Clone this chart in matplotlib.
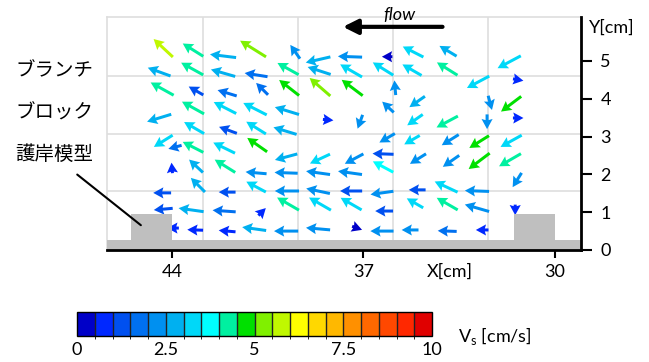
import numpy as np
import matplotlib
matplotlib.use('Agg')
import matplotlib.pyplot as plt
from matplotlib.colors import ListedColormap, BoundaryNorm
from matplotlib.patches import Rectangle
from matplotlib.cm import ScalarMappable

plt.rcParams['font.family'] = ['Lato', 'Noto Sans CJK JP', 'DejaVu Sans']

# measurement points [cm]
x_cm = [44.33, 44.48, 44.37, 44.48, 44.33, 44.01, 44.37, 44.33, 43.97, 43.90,
        43.24, 43.27, 43.13, 43.24, 43.20, 43.24, 43.13, 43.06, 43.31, 43.16,
        42.14, 42.14, 41.99, 42.07, 41.96, 42.10, 42.07, 41.99, 42.10, 41.99,
        41.04, 40.93, 40.71, 40.97, 40.93, 40.89, 40.93, 40.93, 40.71, 41.00,
        39.50, 39.76, 39.72, 39.80, 39.87, 39.83, 39.83, 39.80, 39.76, 39.83,
        38.66, 38.62, 38.59, 38.29, 38.59, 38.66, 38.66, 38.59, 38.66,
        37.49, 37.45, 37.41, 37.12, 37.34, 37.49, 37.45, 37.45, 37.23,
        36.13, 36.28, 35.84, 36.10, 36.13, 36.28, 36.28, 36.32, 36.24, 36.32,
        35.18, 35.22, 35.03, 35.11, 35.22, 35.00, 35.03, 35.11, 35.29,
        33.90, 33.93, 33.93, 33.82, 33.79, 33.97, 33.93, 33.93,
        32.80, 32.36, 32.47, 32.76, 32.76, 32.84, 32.84, 32.65,
        31.66, 31.33, 31.59, 31.33, 31.59, 31.63, 31.37, 31.44]
y_cm = [5.34, 4.71, 4.26, 3.49, 2.88, 2.17, 1.51, 1.08, 0.58, 2.72,
        5.29, 4.79, 4.21, 3.76, 3.23, 2.72, 2.22, 1.72, 1.06, 0.53,
        5.13, 4.68, 4.15, 3.76, 3.17, 2.70, 2.22, 1.53, 1.03, 0.50,
        5.32, 4.63, 4.26, 3.73, 3.23, 2.78, 2.04, 1.67, 1.01, 0.56,
        5.24, 4.79, 4.29, 3.68, 3.15, 2.46, 2.04, 1.56, 1.22, 0.50,
        5.03, 4.74, 4.31, 3.44, 2.41, 2.04, 1.56, 1.22, 0.56,
        5.11, 4.74, 4.29, 3.39, 2.41, 2.04, 1.56, 1.22, 0.58,
        5.11, 4.79, 4.29, 3.78, 2.96, 2.54, 2.20, 1.51, 1.03, 0.50,
        5.24, 4.76, 3.92, 3.44, 2.91, 2.41, 1.59, 1.24, 0.53,
        5.26, 4.79, 3.39, 2.91, 2.35, 1.67, 1.22, 0.50,
        4.44, 3.89, 3.39, 2.86, 2.35, 1.56, 1.11, 0.53,
        4.97, 4.50, 3.86, 3.49, 2.88, 2.38, 1.85, 1.06]
# arrow direction as seen in the figure [deg], in-plane magnitude, Vs [cm/s]
direction = [137, 160, 151, 197, 212, 95, 180, 185, 180, 195,
             148, 151, 150, 151, 150, 153, 137, 135, 172, 178,
             173, 164, 163, 153, 160, 154, 148, 180, 176, 175,
             148, 171, 135, 153, 148, 145, 175, 152, 45, 172,
             125, 151, 142, 163, 163, 195, 178, 180, 150, 180,
             193, 162, 139, -5, 205, 172, 168, 150, 175,
             178, 150, 143, 250, 208, 172, 180, 150, -20,
             180, 148, 95, 137, 210, 178, 152, 188, 180, 180,
             153, 150, 215, 215, 210, 212, 180, 150, 180,
             149, 148, 208, 212, 215, 155, 150, 178,
             208, 285, 270, 212, 217, 178, 164, 180,
             208, -10, 217, 0, 209, 210, 238, 270]
q_len = [2.5, 2.3, 2.5, 2.4, 2.1, 1.0, 1.7, 1.8, 1.1, 1.3,
         2.3, 2.4, 1.6, 2.4, 2.2, 2.2, 1.8, 1.9, 2.4, 1.5,
         2.5, 2.4, 1.9, 2.4, 1.8, 2.3, 2.3, 1.6, 2.2, 1.6,
         2.9, 2.2, 1.6, 2.5, 2.2, 2.3, 2.0, 2.1, 1.0, 2.3,
         1.6, 2.3, 2.4, 2.4, 2.3, 2.2, 2.2, 2.3, 2.4, 2.3,
         2.4, 2.3, 2.6, 1.0, 2.1, 2.3, 2.3, 2.4, 2.3,
         2.3, 2.4, 2.5, 1.4, 2.0, 2.3, 2.1, 2.3, 1.0,
         1.0, 2.3, 1.4, 1.5, 1.7, 2.0, 2.2, 2.2, 1.7, 2.2,
         2.2, 2.1, 1.8, 1.8, 1.7, 1.8, 1.6, 1.8, 1.6,
         1.9, 2.3, 2.3, 1.9, 1.9, 2.4, 2.3, 1.8,
         2.4, 1.4, 1.4, 2.2, 2.5, 2.3, 2.4, 1.2,
         2.5, 1.0, 2.4, 1.0, 2.3, 2.4, 1.6, 1.0]
vs = [5.75, 2.75, 4.25, 2.75, 3.25, 0.6, 1.25, 1.25, 0.8, 1.6,
      4.25, 4.25, 1.25, 4.3, 3.4, 4.2, 2.8, 2.7, 2.7, 0.8,
      2.6, 2.8, 1.5, 3.3, 1.3, 3.3, 4.2, 1.0, 1.7, 0.8,
      5.3, 1.8, 1.7, 3.4, 3.4, 4.8, 2.2, 3.3, 0.7, 2.6,
      2.3, 4.2, 4.9, 2.9, 2.8, 2.7, 2.3, 2.3, 4.2, 2.3,
      2.8, 2.8, 5.3, 0.7, 3.3, 2.3, 2.3, 3.3, 2.3,
      2.3, 3.3, 4.8, 2.2, 2.3, 2.3, 1.3, 3.3, 0.3,
      0.3, 3.3, 2.2, 2.2, 2.2, 1.3, 3.5, 2.2, 1.1, 2.3,
      3.1, 3.3, 2.8, 3.2, 3.3, 2.3, 1.3, 3.3, 2.3,
      2.8, 4.2, 4.2, 2.3, 2.3, 3.3, 4.2, 1.5,
      3.3, 2.2, 2.2, 4.8, 4.9, 2.3, 2.3, 0.8,
      3.3, 0.7, 4.8, 0.7, 3.2, 4.2, 2.3, 0.7]

bar_colors = ['#0000c8', '#0028ff', '#0050f0', '#0070f0', '#0090f0',
              '#00b0f0', '#00d8f8', '#00ffff', '#00f0a0', '#00e000',
              '#80f000', '#c0f800', '#ffff00', '#ffd800', '#ffb800',
              '#ff9000', '#ff6800', '#ff4800', '#ff2800', '#e00000']
levels = np.arange(0, 10.01, 0.5)
cbar_ticks = [0, 2.5, 5, 7.5, 10]
cbar_ticklabels = ['0', '2.5', '5', '7.5', '10']

cmap = ListedColormap(bar_colors)
norm = BoundaryNorm(levels, cmap.N)

W, H = 649, 362
fig = plt.figure(figsize=(W / 100, H / 100), dpi=100)
ax = fig.add_axes([107 / W, 1 - 250 / H, (581 - 107) / W, (250 - 17) / H])
ax.set_xlim(46.39, 29.03)
ax.set_ylim(0, 6.16)

# background grid
for gx in [42.87, 39.39, 35.91, 32.43]:
    ax.axvline(gx, color='#dedede', lw=1.2, zorder=0)
for gy in [4.60, 3.07, 1.56]:
    ax.axhline(gy, color='#dedede', lw=1.2, zorder=0)

rad = np.deg2rad(direction)
u = np.array(q_len) * np.cos(rad)
v = np.array(q_len) * np.sin(rad)
ax.quiver(x_cm, y_cm, u, v, vs, cmap=cmap, norm=norm, angles='uv',
          scale_units='dots', scale=0.095, units='dots', width=3.0,
          headwidth=3.7, headlength=3.4, headaxislength=3.0,
          pivot='middle', zorder=2)

# channel bed and revetment blocks
gray = '#bfbfbf'
ax.add_patch(Rectangle((29.0, 0), 17.4, 0.26, color=gray, zorder=3, lw=0))
ax.add_patch(Rectangle((44.0, 0), 1.5, 0.95, color=gray, zorder=3, lw=0))
ax.add_patch(Rectangle((30.0, 0), 1.48, 0.95, color=gray, zorder=3, lw=0))

for s in ['top', 'left']:
    ax.spines[s].set_color('#dedede')
    ax.spines[s].set_linewidth(1.2)
for s in ['bottom', 'right']:
    ax.spines[s].set_color('black')
    ax.spines[s].set_linewidth(2)
    ax.spines[s].set_zorder(4)

ax.set_xticks([44, 37, 30])
ax.set_xticklabels(['44', '37', '30'])
ax.tick_params(axis='x', length=6, width=1.5, labelsize=13, pad=4)
ax.yaxis.tick_right()
ax.set_yticks([0, 1, 2, 3, 4, 5])
ax.tick_params(axis='y', length=8, width=1.5, labelsize=13, pad=6)

fig.text(450 / W, 1 - 272 / H, 'X[cm]', ha='center', va='center', fontsize=13)
fig.text(612 / W, 1 - 28 / H, 'Y[cm]', ha='center', va='center', fontsize=13)

# flow arrow
ax.annotate('', xy=(37.85, 5.9), xytext=(34.0, 5.9),
            arrowprops=dict(arrowstyle='-|>', color='black', lw=3,
                            mutation_scale=22),
            annotation_clip=False)
ax.text(35.7, 6.22, 'flow', style='italic', fontsize=13, ha='center',
        va='center', clip_on=False)

# label for the block
for txt, py in zip(['ブランチ', 'ブロック', '護岸模型'], [71, 113, 154]):
    fig.text(54 / W, 1 - py / H, txt, ha='center', va='center', fontsize=14,
             family=['Noto Sans CJK JP', 'DejaVu Sans'])
ax.annotate('', xy=(45.07, 0.61), xytext=(47.56, 2.04),
            arrowprops=dict(arrowstyle='-', lw=1.5, color='black'),
            annotation_clip=False, zorder=5)

# colour bar
cax = fig.add_axes([77 / W, 1 - 336 / H, 355 / W, 24 / H])
cb = fig.colorbar(ScalarMappable(norm=norm, cmap=cmap), cax=cax,
                  orientation='horizontal', drawedges=True, ticks=cbar_ticks)
cb.set_ticklabels(cbar_ticklabels)
cb.outline.set_linewidth(1)
cb.dividers.set_linewidth(1)
cb.dividers.set_color('#222222')
cax.tick_params(length=0, labelsize=13, pad=4)
fig.text(458 / W, 1 - 336 / H, 'V$_\\mathregular{s}$ [cm/s]', ha='left',
         va='center', fontsize=13)

fig.savefig('out.png', dpi=100)
